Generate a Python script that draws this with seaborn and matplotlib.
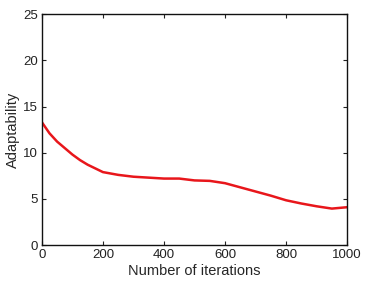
import numpy as np
import pandas as pd
import matplotlib
matplotlib.use("Agg")
import matplotlib.pyplot as plt
import seaborn as sns

# values
iterations = [0, 25, 50, 75, 100, 125, 150, 200, 250, 300, 350, 400, 450, 500,
              550, 600, 650, 700, 750, 800, 850, 900, 950, 1000]
adaptability = [13.3, 12.1, 11.2, 10.5, 9.8, 9.2, 8.7, 7.9, 7.6, 7.4, 7.3, 7.2, 7.2, 7.0,
                6.95, 6.7, 6.25, 5.8, 5.35, 4.85, 4.5, 4.2, 3.95, 4.1]
x_ticks = [0, 200, 400, 600, 800, 1000]
y_ticks = [0, 5, 10, 15, 20, 25]

df = pd.DataFrame({"iter": iterations, "adapt": adaptability})

sns.set_style("white")
plt.rcParams["font.family"] = ["Liberation Sans", "DejaVu Sans"]

fig = plt.figure(figsize=(3.84, 2.88), dpi=100)
ax = fig.add_axes([0.109, 0.149, 0.795, 0.802])
sns.lineplot(data=df, x="iter", y="adapt", color="#e8161b", linewidth=1.8, ax=ax)

ax.set_xlim(0, 1000)
ax.set_ylim(0, 25)
ax.set_xticks(x_ticks)
ax.set_yticks(y_ticks)
ax.tick_params(direction="in", length=3, width=0.8, labelsize=9.5, pad=3,
               top=True, right=True, bottom=True, left=True, colors="#222222")
for s in ax.spines.values():
    s.set_color("#111111")
    s.set_linewidth(1.0)
ax.set_xlabel("Number of iterations", fontsize=10.5, labelpad=2)
ax.set_ylabel("Adaptability", fontsize=10.5, labelpad=2)

fig.savefig("out.png", dpi=100)
